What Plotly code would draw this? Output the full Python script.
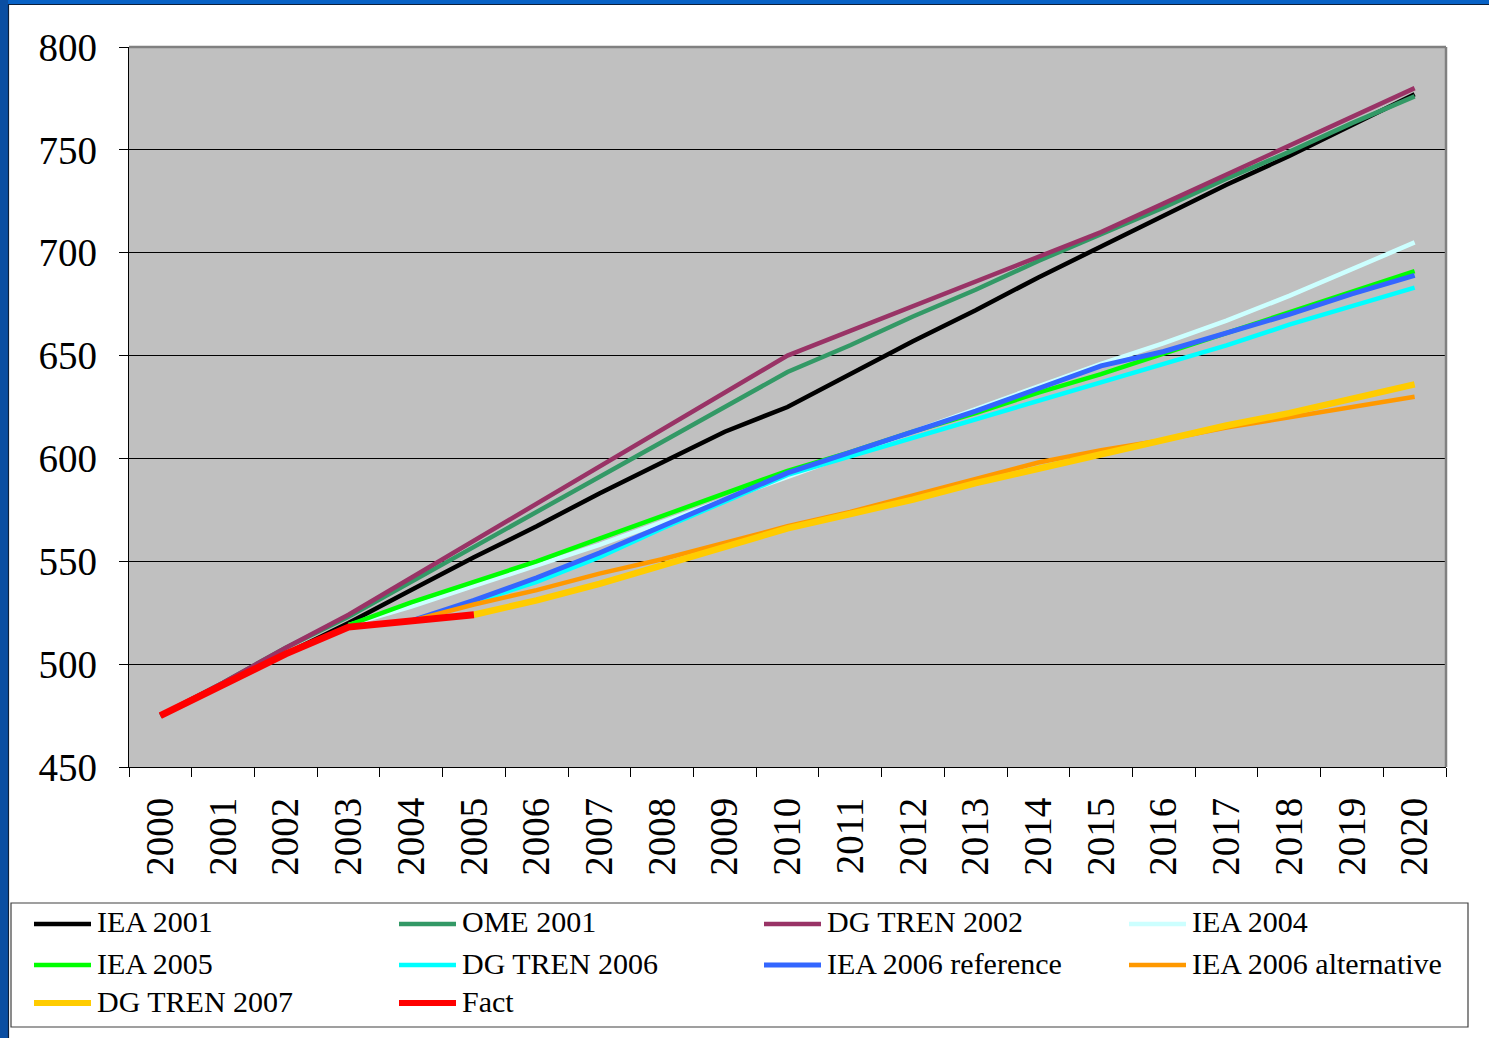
import plotly.graph_objects as go

# ---- data -------------------------------------------------------------
years = [str(y) for y in range(2000, 2021)]

series_names = [
    "IEA 2001", "OME 2001", "DG TREN 2002", "IEA 2004",
    "IEA 2005", "DG TREN 2006", "IEA 2006 reference", "IEA 2006 alternative",
    "DG TREN 2007", "Fact",
]

iea_2001 = [475, 490, 505, 520, 536, 552, 567, 583, 598, 613, 625,
            641, 657, 672, 688, 703, 718, 733, 747, 762, 777]
ome_2001 = [475, 491, 508, 523, 540, 557, 574, 591, 608, 625, 642,
            655, 669, 682, 696, 709, 722, 736, 749, 763, 776]
dg_tren_2002 = [475, 491, 508, 524, 542, 560, 578, 596, 614, 632, 650,
                662, 674, 686, 698, 710, 724, 738, 752, 766, 780]
iea_2004 = [None, None, None, 519, 528, 538, 548, 558, 569, 580, 591,
            602, 613, 624, 635, 646, 656, 667, 679, 692, 705]
iea_2005 = [None, None, None, 519, 530, 540, 550, 561, 572, 583, 594,
            603, 613, 622, 632, 641, 651, 661, 671, 681, 691]
dg_tren_2006 = [None, None, None, None, None, 530, 540, 552, 566, 579, 592,
                601, 610, 619, 628, 637, 646, 655, 665, 674, 683]
iea_2006_ref = [None, None, None, None, 521, 531, 542, 554, 567, 580, 593,
                603, 613, 623, 634, 645, 652, 661, 670, 680, 689]
iea_2006_alt = [None, None, None, None, 521, 529, 536, 544, 551, 559, 567,
                574, 582, 590, 598, 604, 609, 615, 620, 625, 630]
dg_tren_2007 = [None, None, None, None, None, 524, 531, 539, 548, 557, 566,
                573, 580, 588, 595, 602, 609, 616, 622, 629, 636]
fact = [475, 490, 505, 518, 521, 524] + [None] * 15

series_values = [iea_2001, ome_2001, dg_tren_2002, iea_2004, iea_2005,
                 dg_tren_2006, iea_2006_ref, iea_2006_alt, dg_tren_2007, fact]

# ---- styling ----------------------------------------------------------
colors = ["#000000", "#339966", "#993366", "#CCFFFF", "#00FF00",
          "#00FFFF", "#3366FF", "#FF9900", "#FFCC00", "#FF0000"]
widths = [4.5, 4.5, 4.5, 4.5, 4.5, 4.5, 5, 4.5, 6.5, 7]

W, H = 1489, 1038
L, R, T, B = 129, 1446, 47, 767          # plot area edges in pixels
FONT = "Liberation Serif"


def px_x(px):
    return (px - L) / (R - L)


def px_y(py):
    return (B - py) / (B - T)


fig = go.Figure()
for name, vals, col, w in zip(series_names, series_values, colors, widths):
    fig.add_trace(go.Scatter(
        x=years, y=vals, name=name, mode="lines",
        line=dict(color=col, width=w), connectgaps=False,
        showlegend=False,
    ))

shapes = []
annotations = []

# slide frame (blue strips on the top and left edges)
shapes.append(dict(type="rect", xref="paper", yref="paper",
                   x0=px_x(0), x1=px_x(W), y0=px_y(0), y1=px_y(4),
                   fillcolor="#0862C6", line_width=0, layer="above"))
shapes.append(dict(type="rect", xref="paper", yref="paper",
                   x0=px_x(0), x1=px_x(8), y0=px_y(0), y1=px_y(H),
                   fillcolor="#0A4EA2", line_width=0, layer="above"))
shapes.append(dict(type="line", xref="paper", yref="paper",
                   x0=px_x(8), x1=px_x(W), y0=px_y(4.5), y1=px_y(4.5),
                   line=dict(color="#0C1E3A", width=1.2), layer="above"))
shapes.append(dict(type="line", xref="paper", yref="paper",
                   x0=px_x(8.5), x1=px_x(8.5), y0=px_y(4), y1=px_y(H),
                   line=dict(color="#0C1E3A", width=1.2), layer="above"))

# plot-area frame: grey on top/right
shapes.append(dict(type="line", xref="paper", yref="paper",
                   x0=0, x1=1, y0=1, y1=1,
                   line=dict(color="#808080", width=2.5), layer="above"))
shapes.append(dict(type="line", xref="paper", yref="paper",
                   x0=1, x1=1, y0=0, y1=1,
                   line=dict(color="#808080", width=2.5), layer="above"))

# legend box
shapes.append(dict(type="rect", xref="paper", yref="paper",
                   x0=px_x(11), x1=px_x(1468), y0=px_y(1027), y1=px_y(903),
                   fillcolor="white", line=dict(color="#404040", width=1.2),
                   layer="above"))

col_x = [34, 399, 764, 1129]
row_y = [923, 964, 1002]
for i, (name, col, w) in enumerate(zip(series_names, colors, widths)):
    r, c = divmod(i, 4)
    x0 = col_x[c]
    y0 = row_y[r]
    shapes.append(dict(type="line", xref="paper", yref="paper",
                       x0=px_x(x0), x1=px_x(x0 + 57),
                       y0=px_y(y0 + 1), y1=px_y(y0 + 1),
                       line=dict(color=col, width=min(w, 6)), layer="above"))
    annotations.append(dict(xref="paper", yref="paper",
                            x=px_x(x0 + 61), y=px_y(y0 - 1),
                            xanchor="left", yanchor="middle",
                            text=name, showarrow=False,
                            font=dict(family=FONT, size=30, color="black")))

fig.update_layout(
    width=W, height=H,
    margin=dict(l=L, r=W - R, t=T, b=H - B, pad=0),
    paper_bgcolor="white",
    plot_bgcolor="#C0C0C0",
    shapes=shapes,
    annotations=annotations,
    showlegend=False,
    font=dict(family=FONT, color="black"),
    xaxis=dict(
        type="category", categoryorder="array", categoryarray=years,
        range=[-0.5, 20.5],
        tickson="boundaries", ticks="outside", ticklen=9, tickwidth=1,
        tickcolor="black", tickangle=-90,
        tickfont=dict(family=FONT, size=39, color="black"),
        ticklabelstandoff=14,
        showline=True, linecolor="black", linewidth=1.2,
        showgrid=False, zeroline=False,
    ),
    yaxis=dict(
        range=[450, 800], dtick=50, tick0=450,
        ticks="outside", ticklen=9, tickwidth=1, tickcolor="black",
        tickfont=dict(family=FONT, size=39, color="black"),
        ticklabelstandoff=14,
        showline=True, linecolor="black", linewidth=1.2,
        showgrid=True, gridcolor="#000000", gridwidth=1,
        zeroline=False,
    ),
)

fig.write_html("out.html")
